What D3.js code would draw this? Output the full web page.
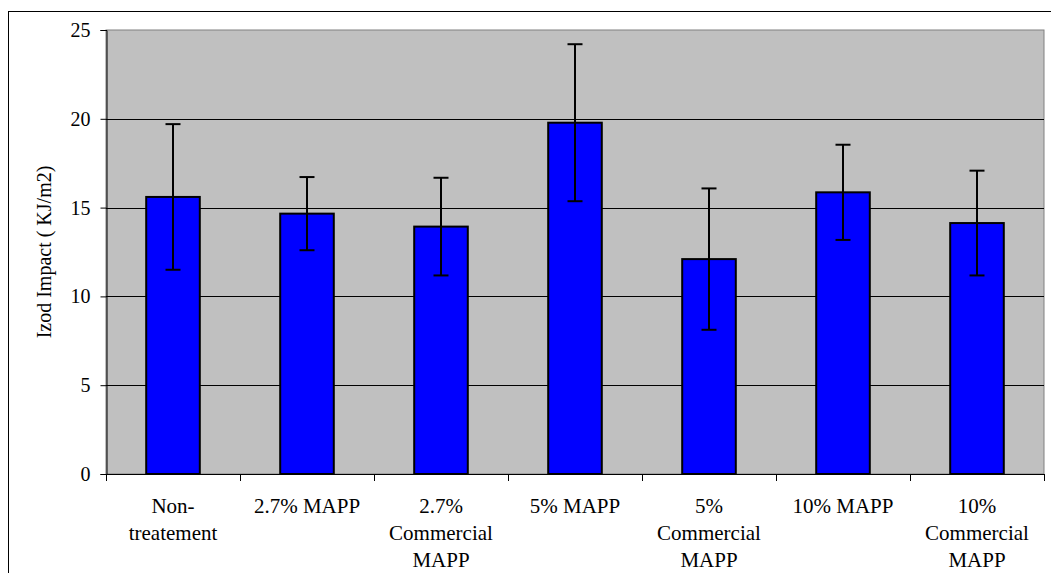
<!DOCTYPE html>
<html>
<head>
<meta charset="utf-8">
<script src="https://cdn.jsdelivr.net/npm/d3@7"></script>
<style>
  body { margin: 0; background: #fff; }
  text { font-family: "Liberation Serif", "Times New Roman", serif; fill: #000; }
</style>
</head>
<body>
<div id="container"></div>
<script>
const categories = ["Non-treatement", "2.7% MAPP", "2.7% Commercial MAPP", "5% MAPP",
                    "5% Commercial MAPP", "10% MAPP", "10% Commercial MAPP"];
const labelLines = [["Non-", "treatement"], ["2.7% MAPP"], ["2.7%", "Commercial", "MAPP"], ["5% MAPP"],
                    ["5%", "Commercial", "MAPP"], ["10% MAPP"], ["10%", "Commercial", "MAPP"]];
const means = [15.6, 14.66, 13.93, 19.78, 12.1, 15.86, 14.13];
const errors = [4.1, 2.06, 2.75, 4.42, 3.98, 2.68, 2.95];
const yTicks = [0, 5, 10, 15, 20, 25];
const yLabel = "Izod Impact ( KJ/m2)";

const width = 1051;
const height = 573;
const plotLeft = 106, plotRight = 1044, plotTop = 30, plotBottom = 474;

const svg = d3.select("#container")
  .append("svg")
    .attr("width", width)
    .attr("height", height);

// outer chart border (runs off the right and bottom)
svg.append("rect")
  .attr("x", 8.5).attr("y", 11.5)
  .attr("width", 1100).attr("height", 700)
  .style("fill", "none").style("stroke", "#000");

const x = d3.scaleBand()
  .domain(categories)
  .range([plotLeft, plotRight])
  .paddingInner(0.6)
  .paddingOuter(0.3);

const y = d3.scaleLinear()
  .domain([0, 25])
  .range([plotBottom, plotTop]);

// plot area
svg.append("rect")
  .attr("x", plotLeft).attr("y", plotTop)
  .attr("width", plotRight - plotLeft).attr("height", plotBottom - plotTop)
  .style("fill", "#c0c0c0")
  .style("stroke", "#808080");

// gridlines
svg.append("g")
  .selectAll("line")
  .data(yTicks.filter((d) => d > 0 && d < 25))
  .enter()
  .append("line")
    .attr("x1", plotLeft).attr("x2", plotRight)
    .attr("y1", (d) => Math.round(y(d)) + 0.5)
    .attr("y2", (d) => Math.round(y(d)) + 0.5)
    .style("stroke", "#000");

// y axis
const yAxis = svg.append("g")
  .attr("transform", `translate(${plotLeft + 0.5},0)`)
  .call(d3.axisLeft(y).tickValues(yTicks).tickSize(6).tickPadding(10));
yAxis.selectAll("text").style("font-size", "20px").style("font-family", "Liberation Serif");
yAxis.selectAll("line,path").style("stroke", "#000");

// x axis: ticks at category boundaries
const xAxisG = svg.append("g");
xAxisG.append("line")
  .attr("x1", plotLeft).attr("x2", plotRight)
  .attr("y1", plotBottom + 0.5).attr("y2", plotBottom + 0.5)
  .style("stroke", "#000");
const step = x.step();
xAxisG.selectAll(".xtick")
  .data(d3.range(categories.length + 1))
  .enter()
  .append("line")
    .attr("class", "xtick")
    .attr("x1", (i) => Math.round(plotLeft + i * step) + 0.5)
    .attr("x2", (i) => Math.round(plotLeft + i * step) + 0.5)
    .attr("y1", plotBottom)
    .attr("y2", plotBottom + 7)
    .style("stroke", "#000");

// category labels
const labels = svg.append("g")
  .selectAll("text")
  .data(categories)
  .enter()
  .append("text")
    .attr("text-anchor", "middle")
    .style("font-size", "21px");
labels.each(function (d, i) {
  const t = d3.select(this);
  labelLines[i].forEach((line, j) => {
    t.append("tspan")
      .attr("x", x(d) + x.bandwidth() / 2)
      .attr("y", 513 + j * 27)
      .text(line);
  });
});

// bars
svg.append("g")
  .selectAll("rect")
  .data(categories)
  .enter()
  .append("rect")
    .attr("x", (d) => x(d))
    .attr("y", (d, i) => y(means[i]))
    .attr("width", x.bandwidth())
    .attr("height", (d, i) => y(0) - y(means[i]))
    .style("fill", "#0000ff")
    .style("stroke", "#000")
    .style("stroke-width", 2);

// error bars
const err = svg.append("g")
  .selectAll("g")
  .data(categories)
  .enter()
  .append("g")
    .style("stroke", "#000")
    .style("stroke-width", 2);
const cx = (d) => x(d) + x.bandwidth() / 2;
err.append("line")
  .attr("x1", cx).attr("x2", cx)
  .attr("y1", (d, i) => y(means[i] + errors[i]))
  .attr("y2", (d, i) => y(means[i] - errors[i]));
[1, -1].forEach((s) => {
  err.append("line")
    .attr("x1", (d) => cx(d) - 7.5).attr("x2", (d) => cx(d) + 7.5)
    .attr("y1", (d, i) => y(means[i] + s * errors[i]))
    .attr("y2", (d, i) => y(means[i] + s * errors[i]));
});

// y axis title
svg.append("text")
  .attr("transform", `translate(51, ${(plotTop + plotBottom) / 2}) rotate(-90)`)
  .attr("text-anchor", "middle")
  .style("font-size", "20px")
  .text(yLabel);
</script>
</body>
</html>
